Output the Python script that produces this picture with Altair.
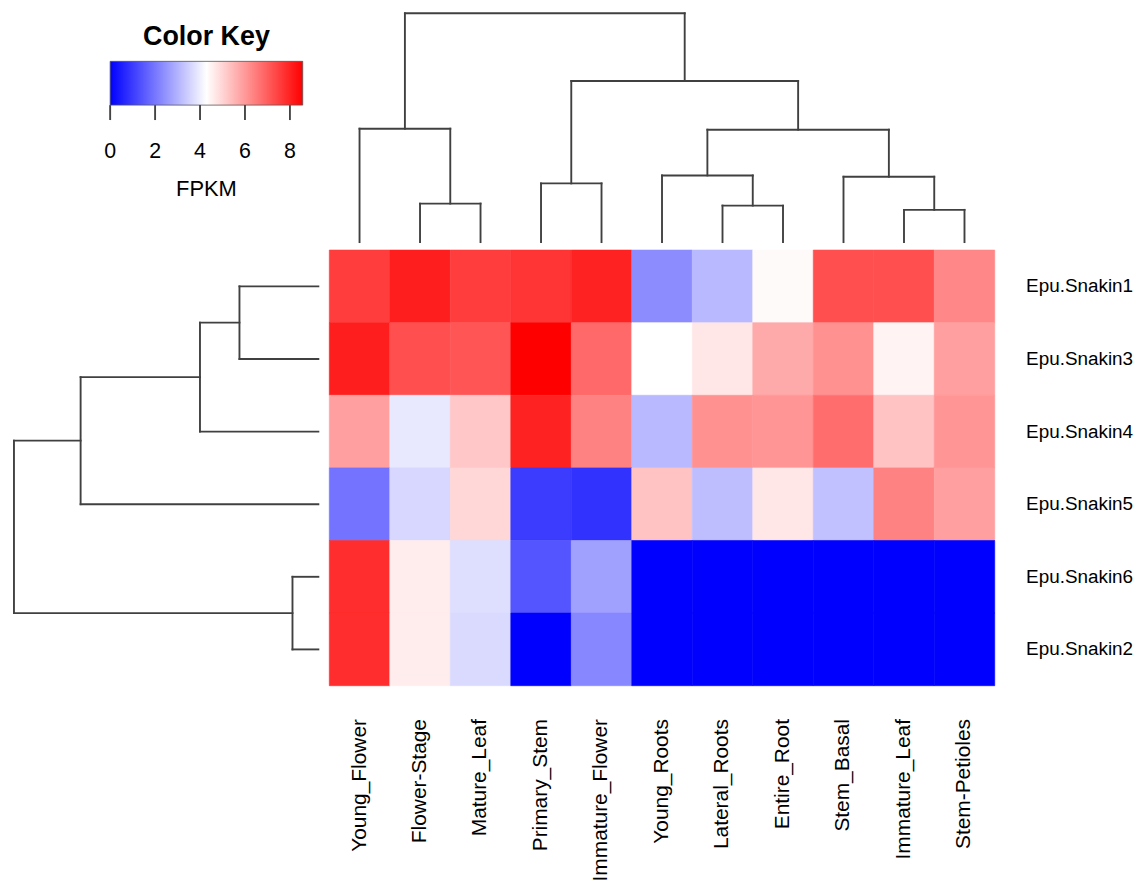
import altair as alt
import pandas as pd

# ---------------- data ----------------
col_order = ["Young_Flower", "Flower-Stage", "Mature_Leaf", "Primary_Stem", "Immature_Flower",
             "Young_Roots", "Lateral_Roots", "Entire_Root", "Stem_Basal", "Immature_Leaf", "Stem-Petioles"]
row_order = ["Epu.Snakin1", "Epu.Snakin3", "Epu.Snakin4", "Epu.Snakin5", "Epu.Snakin6", "Epu.Snakin2"]

# FPKM values, one list per gene, in col_order
snakin1 = [7.55, 8.07, 7.55, 7.70, 8.00, 2.36, 3.11, 4.37, 7.24, 7.24, 6.30]
snakin3 = [8.07, 7.24, 7.15, 8.57, 6.81, 4.29, 4.68, 5.72, 6.14, 4.49, 5.89]
snakin4 = [5.89, 3.90, 5.22, 8.00, 6.39, 3.11, 6.14, 6.06, 6.73, 5.30, 6.06]
snakin5 = [1.93, 3.62, 4.96, 1.01, 0.84, 5.30, 3.20, 4.68, 3.24, 6.39, 5.89]
snakin6 = [7.81, 4.58, 3.73, 1.43, 2.69, 0.00, 0.00, 0.00, 0.00, 0.00, 0.00]
snakin2 = [7.81, 4.58, 3.67, 0.00, 2.27, 0.00, 0.00, 0.00, 0.00, 0.00, 0.00]
gene_values = [snakin1, snakin3, snakin4, snakin5, snakin6, snakin2]

# column dendrogram merges (left, right, height); "mN" refers to merge N
col_merge_left = ["Flower-Stage", "Young_Flower", "Primary_Stem", "Lateral_Roots", "Young_Roots",
                  "Immature_Leaf", "Stem_Basal", "m4", "m2", "m1"]
col_merge_right = ["Mature_Leaf", "m0", "Immature_Flower", "Entire_Root", "m3",
                   "Stem-Petioles", "m5", "m6", "m7", "m8"]
col_merge_height = [38.7, 114, 59, 36.7, 67, 32.4, 65.7, 113, 162, 230]

# row dendrogram merges
row_merge_left = ["Epu.Snakin1", "m0", "m1", "Epu.Snakin6", "m2"]
row_merge_right = ["Epu.Snakin3", "Epu.Snakin4", "Epu.Snakin5", "Epu.Snakin2", "m3"]
row_merge_height = [79.3, 119, 239, 26, 306]

key_min, key_max = 0.0, 8.57
key_ticks = [0, 2, 4, 6, 8]

FONT = "Liberation Sans"
LINE = "#404040"


def dendro_segments(leaves, lefts, rights, heights):
    pos = {name: float(i) for i, name in enumerate(leaves)}
    hgt = {name: 0.0 for name in leaves}
    segs = []
    for k, (a, b, h) in enumerate(zip(lefts, rights, heights)):
        pa, pb = pos[a], pos[b]
        ha, hb = hgt[a], hgt[b]
        segs.append(dict(p0=pa, p1=pa, h0=ha, h1=h))
        segs.append(dict(p0=pb, p1=pb, h0=hb, h1=h))
        segs.append(dict(p0=pa, p1=pb, h0=h, h1=h))
        pos[f"m{k}"] = (pa + pb) / 2
        hgt[f"m{k}"] = h
    return pd.DataFrame(segs)


heat_df = pd.DataFrame([
    dict(gene=g, tissue=t, fpkm=v)
    for g, vals in zip(row_order, gene_values)
    for t, v in zip(col_order, vals)
])

col_segs = dendro_segments(col_order, col_merge_left, col_merge_right, col_merge_height)
row_segs = dendro_segments(row_order, row_merge_left, row_merge_right, row_merge_height)

color_scale = alt.Scale(domain=[key_min, (key_min + key_max) / 2, key_max],
                        range=["#0000ff", "#ffffff", "#ff0000"], interpolate="rgb")

HM_W, HM_H = 669, 438
LEFT_W, TOP_H = 323, 241

# ---------------- heatmap ----------------
heat = alt.Chart(heat_df).mark_rect(strokeWidth=0.6).encode(
    x=alt.X("tissue:N", sort=col_order, title=None,
            scale=alt.Scale(paddingInner=0, paddingOuter=0),
            axis=alt.Axis(orient="bottom", labelAngle=-90, labelFontSize=21, labelFont=FONT,
                          labelColor="#000", ticks=False, domain=False, labelPadding=33,
                          labelLimit=400)),
    y=alt.Y("gene:N", sort=row_order, title=None,
            scale=alt.Scale(paddingInner=0, paddingOuter=0),
            axis=alt.Axis(orient="right", labelFontSize=19, labelFont=FONT, labelColor="#000",
                          ticks=False, domain=False, labelPadding=31, labelLimit=400)),
    color=alt.Color("fpkm:Q", scale=color_scale, legend=None),
    stroke=alt.Stroke("fpkm:Q", scale=color_scale, legend=None),
).properties(width=HM_W, height=HM_H)

# ---------------- column dendrogram ----------------
col_dendro = alt.Chart(col_segs).mark_rule(color=LINE, strokeWidth=1.9, strokeCap="square").encode(
    x=alt.X("p0:Q", scale=alt.Scale(domain=[-0.5, len(col_order) - 0.5], nice=False, zero=False), axis=None),
    x2="p1:Q",
    y=alt.Y("h0:Q", scale=alt.Scale(domain=[-8, 233], nice=False, zero=False), axis=None),
    y2="h1:Q",
).properties(width=HM_W, height=TOP_H)

# ---------------- row dendrogram ----------------
row_dendro = alt.Chart(row_segs).mark_rule(color=LINE, strokeWidth=1.9, strokeCap="square").encode(
    y=alt.Y("p0:Q", scale=alt.Scale(domain=[-0.5, len(row_order) - 0.5], nice=False, zero=False,
                                    reverse=True), axis=None),
    y2="p1:Q",
    x=alt.X("h0:Q", scale=alt.Scale(domain=[-11, 312], nice=False, zero=False, reverse=True), axis=None),
    x2="h1:Q",
).properties(width=LEFT_W, height=HM_H)

# ---------------- color key ----------------
key_xscale = alt.Scale(domain=[-4.546, 9.752], nice=False, zero=False)
key_mid = (key_min + key_max) / 2
ends_df = pd.DataFrame({"lo": [key_min], "hi": [key_max], "mid": [key_mid]})
ticks_df = pd.DataFrame({"t": key_ticks, "lab": [str(t) for t in key_ticks]})

grad = alt.LinearGradient(gradient="linear", x1=0, x2=1, y1=0, y2=0,
                          stops=[alt.GradientStop(color="#0000ff", offset=0),
                                 alt.GradientStop(color="#ffffff", offset=0.5),
                                 alt.GradientStop(color="#ff0000", offset=1)])

key_bar = alt.Chart(ends_df).mark_rect(fill=grad, stroke="#555", strokeWidth=0.8).encode(
    x=alt.X("lo:Q", scale=key_xscale, axis=None), x2="hi:Q",
    y=alt.value(51.3), y2=alt.value(95.3))
key_ticks_m = alt.Chart(ticks_df).mark_rule(color="#444", strokeWidth=1.9).encode(
    x=alt.X("t:Q", scale=key_xscale, axis=None), y=alt.value(95.3), y2=alt.value(110.3))
key_labels = alt.Chart(ticks_df).mark_text(font=FONT, fontSize=21.5, color="#000",
                                           baseline="alphabetic").encode(
    x=alt.X("t:Q", scale=key_xscale, axis=None), y=alt.value(148.7), text="lab:N")
key_title = alt.Chart(ends_df).mark_text(font=FONT, fontSize=27, fontWeight="bold", color="#000",
                                         baseline="alphabetic", text="Color Key").encode(
    x=alt.X("mid:Q", scale=key_xscale, axis=None), y=alt.value(35.3))
key_unit = alt.Chart(ends_df).mark_text(font=FONT, fontSize=22, color="#000",
                                        baseline="alphabetic", text="FPKM").encode(
    x=alt.X("mid:Q", scale=key_xscale, axis=None), y=alt.value(187))

key = alt.layer(key_bar, key_ticks_m, key_labels, key_title, key_unit).properties(
    width=LEFT_W, height=TOP_H)

chart = alt.concat(key, col_dendro, row_dendro, heat, columns=2, spacing=0).properties(
    bounds="flush", align="each", padding=0, background="white"
).resolve_scale(x="independent", y="independent", color="independent", stroke="independent"
).configure_view(stroke=None)

chart.save("out.html", embed_options={"renderer": "svg", "actions": False})
